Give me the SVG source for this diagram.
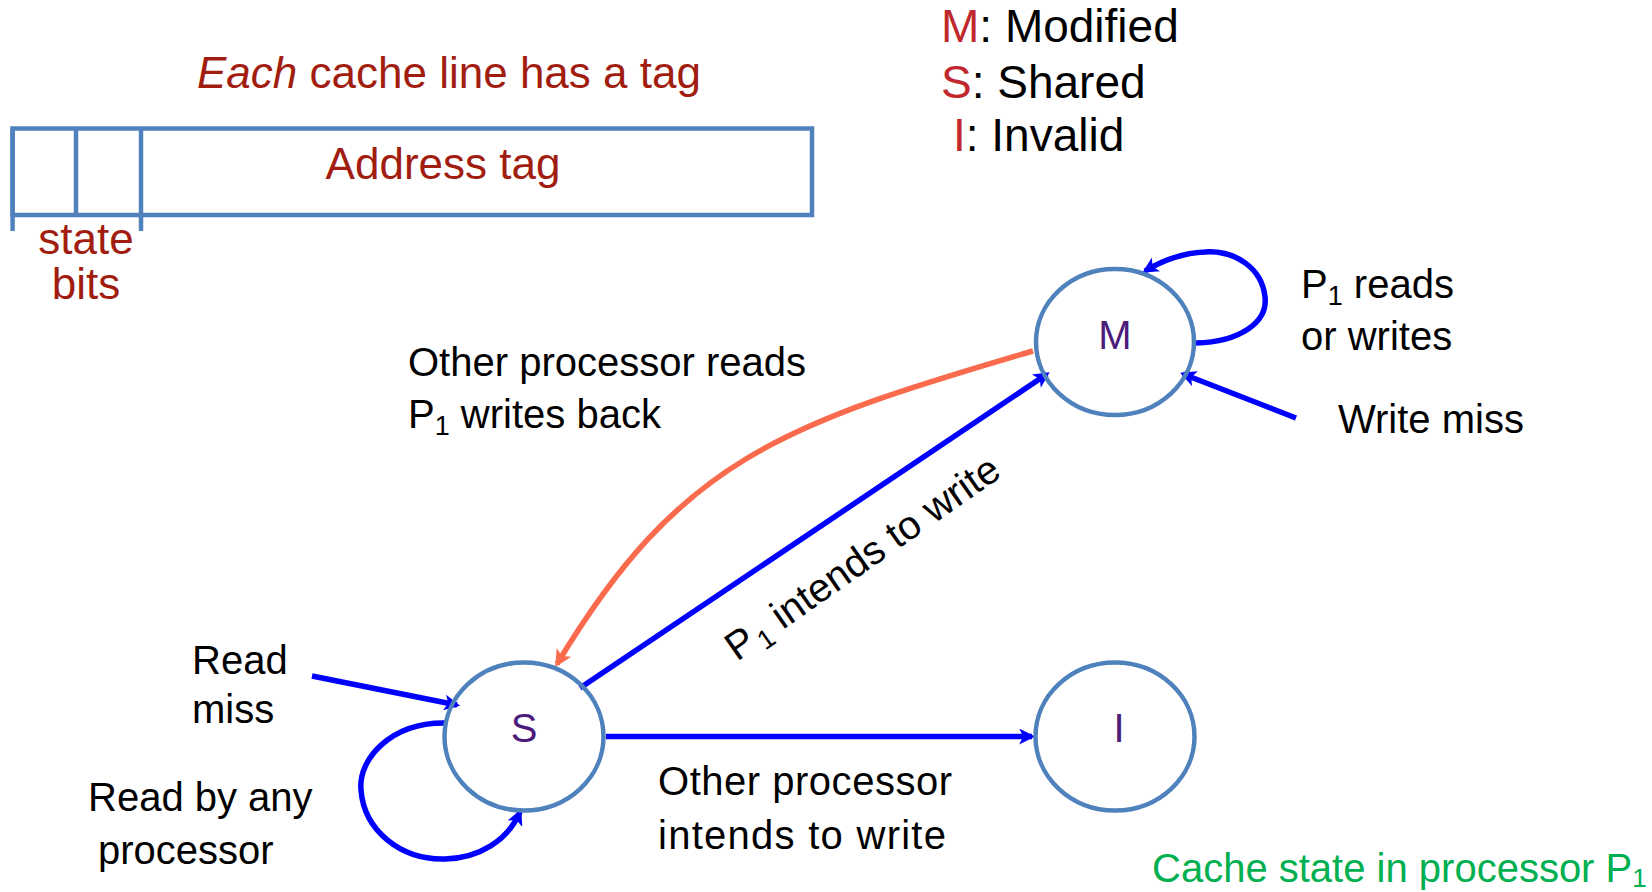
<svg xmlns="http://www.w3.org/2000/svg" width="1652" height="892" viewBox="0 0 1652 892">
  <style>
    .lbl { font-family: "Liberation Sans", Arial, sans-serif; font-size: 40px; fill: #000; }
    .red { font-family: "Liberation Sans", Arial, sans-serif; font-size: 44px; fill: #A11D10; }
    .leg { font-family: "Liberation Sans", Arial, sans-serif; font-size: 46px; fill: #000; }
    .legk { fill: #C0282D; }
    .state { fill: none; stroke: #4F81BD; stroke-width: 4.5; }
    .stname { font-family: "Liberation Sans", Arial, sans-serif; font-size: 40px; fill: #4B1C7B; text-anchor: middle; }
    .edge { fill: none; stroke: #0000FF; stroke-width: 5.5; }
    .back { fill: none; stroke: #FA6A4C; stroke-width: 5.5; }
    .tag { fill: none; stroke: #4F81BD; stroke-width: 4.5; }
    .note { font-family: "Liberation Sans", Arial, sans-serif; font-size: 40px; fill: #00B050; }
  </style>
  <defs>
    <marker id="arrowBlue" viewBox="0 0 10 10" refX="8" refY="5" markerWidth="19" markerHeight="16" markerUnits="userSpaceOnUse" orient="auto">
      <path d="M0,0 L10,5 L0,10 L2.5,5 z" fill="#0000FF"/>
    </marker>
    <marker id="arrowCoral" viewBox="0 0 10 10" refX="8" refY="5" markerWidth="20" markerHeight="17" markerUnits="userSpaceOnUse" orient="auto">
      <path d="M0,0 L10,5 L0,10 L2.5,5 z" fill="#FA6A4C"/>
    </marker>
  </defs>
  <rect width="1652" height="892" fill="#FFFFFF"/>

  <!-- cache line tag layout -->
  <g id="tag-layout">
    <text class="red" x="197" y="88"><tspan font-style="italic">Each</tspan> cache line has a tag</text>
    <rect class="tag" x="12.6" y="128.5" width="799.4" height="86.5"/>
    <line class="tag" x1="12.6" y1="128.5" x2="12.6" y2="231"/>
    <line class="tag" x1="76" y1="128.5" x2="76" y2="215"/>
    <line class="tag" x1="141" y1="128.5" x2="141" y2="231"/>
    <text class="red" x="443" y="179" text-anchor="middle">Address tag</text>
    <text class="red" x="86" y="254" text-anchor="middle" font-size="40">state</text>
    <text class="red" x="86" y="299" text-anchor="middle" font-size="40">bits</text>
  </g>

  <!-- legend -->
  <g id="legend">
    <text class="leg" x="941" y="42"><tspan class="legk">M</tspan>: Modified</text>
    <text class="leg" x="941" y="98"><tspan class="legk">S</tspan>: Shared</text>
    <text class="leg" x="953" y="151"><tspan class="legk">I</tspan>: Invalid</text>
  </g>

  <!-- transitions -->
  <g id="connectors">
    <path class="back" d="M1033,351 C780,425 680,460 557,664" marker-end="url(#arrowCoral)"/>
    <line class="edge" x1="580" y1="688" x2="1047" y2="374" marker-end="url(#arrowBlue)"/>
    <line class="edge" x1="606" y1="736.5" x2="1032" y2="736.5" marker-end="url(#arrowBlue)"/>
    <line class="edge" x1="1296" y1="418" x2="1183" y2="374" marker-end="url(#arrowBlue)"/>
    <line class="edge" x1="312" y1="676" x2="457" y2="705" marker-end="url(#arrowBlue)"/>
    <path class="edge" d="M1196,343 C1240,342 1268,322 1265,297 C1262,268 1235,250 1205,252 C1180,253 1160,262 1145,271" marker-end="url(#arrowBlue)"/>
    <path class="edge" d="M446,723 C390,722 358,760 361,790 C364,830 400,860 445,859 C480,858 508,840 520,812" marker-end="url(#arrowBlue)"/>
  </g>

  <!-- states -->
  <g id="state-M">
    <ellipse class="state" cx="1115" cy="342" rx="79" ry="73"/>
    <text class="stname" x="1115" y="349">M</text>
  </g>
  <g id="state-S">
    <ellipse class="state" cx="524" cy="736.5" rx="79.5" ry="74"/>
    <text class="stname" x="524" y="742">S</text>
  </g>
  <g id="state-I">
    <ellipse class="state" cx="1115" cy="736.5" rx="79.5" ry="74"/>
    <text class="stname" x="1119" y="742">I</text>
  </g>

  <!-- transition labels -->
  <g id="labels">
    <text class="lbl" x="1301" y="298">P<tspan font-size="27" dy="7">1</tspan><tspan dy="-7"> reads</tspan></text>
    <text class="lbl" x="1301" y="350">or writes</text>
    <text class="lbl" x="1338" y="433">Write miss</text>
    <text class="lbl" x="408" y="376">Other processor reads</text>
    <text class="lbl" x="408" y="428">P<tspan font-size="27" dy="7">1</tspan><tspan dy="-7"> writes back</tspan></text>
    <text class="lbl" transform="translate(737,662) rotate(-35)">P<tspan font-size="27" dx="3" dy="7">1</tspan><tspan dy="-7"> intends to write</tspan></text>
    <text class="lbl" x="192" y="674">Read</text>
    <text class="lbl" x="192" y="723">miss</text>
    <text class="lbl" x="88" y="811">Read by any</text>
    <text class="lbl" x="98" y="864">processor</text>
    <text class="lbl" x="658" y="795" textLength="294">Other processor</text>
    <text class="lbl" x="658" y="849" textLength="288">intends to write</text>
    <text class="note" x="1152" y="882">Cache state in processor P<tspan font-size="26" dy="5">1</tspan></text>
  </g>
</svg>
